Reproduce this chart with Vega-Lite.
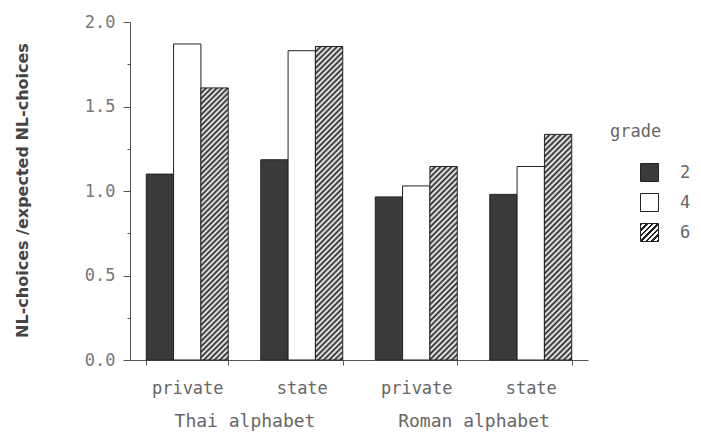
{
"$schema":"https://vega.github.io/schema/vega-lite/v6.json",
"width":458,"height":338,
"autosize":{"type":"none"},
"padding":{"left":130,"top":22,"right":113,"bottom":72},
"background":"white",
"config":{"view":{"stroke":null},"font":"DejaVu Sans Mono"},
"data":{"values":[
{"alphabet":"Thai alphabet","school":"private","cat":"Thai private","grade":"2","value":1.10},
{"alphabet":"Thai alphabet","school":"private","cat":"Thai private","grade":"4","value":1.87},
{"alphabet":"Thai alphabet","school":"private","cat":"Thai private","grade":"6","value":1.61},
{"alphabet":"Thai alphabet","school":"state","cat":"Thai state","grade":"2","value":1.185},
{"alphabet":"Thai alphabet","school":"state","cat":"Thai state","grade":"4","value":1.83},
{"alphabet":"Thai alphabet","school":"state","cat":"Thai state","grade":"6","value":1.855},
{"alphabet":"Roman alphabet","school":"private","cat":"Roman private","grade":"2","value":0.965},
{"alphabet":"Roman alphabet","school":"private","cat":"Roman private","grade":"4","value":1.03},
{"alphabet":"Roman alphabet","school":"private","cat":"Roman private","grade":"6","value":1.145},
{"alphabet":"Roman alphabet","school":"state","cat":"Roman state","grade":"2","value":0.98},
{"alphabet":"Roman alphabet","school":"state","cat":"Roman state","grade":"4","value":1.145},
{"alphabet":"Roman alphabet","school":"state","cat":"Roman state","grade":"6","value":1.335}
]},
"resolve":{"scale":{"x":"independent"},"axis":{"x":"independent"}},
"layer":[
{"mark":{"type":"bar","stroke":"#222","strokeWidth":1},
"encoding":{
"x":{"field":"cat","type":"nominal","sort":["Thai private","Thai state","Roman private","Roman state"],
"scale":{"paddingInner":0.284,"paddingOuter":0.142},
"axis":{"title":null,"labelAngle":0,"labelExpr":"split(datum.label,' ')[1]","tickBand":"extent","tickSize":5,"domainColor":"#555","tickColor":"#555","labelFont":"DejaVu Sans Mono","labelFontSize":17,"labelColor":"#666","labelPadding":15}},
"xOffset":{"field":"grade","type":"nominal","sort":["2","4","6"],"scale":{"paddingInner":0,"paddingOuter":0}},
"y":{"field":"value","type":"quantitative","scale":{"domain":[0,2],"nice":false},
"axis":{"title":"NL-choices /expected NL-choices","titleFont":"DejaVu Sans","titleFontWeight":"bold","titleFontSize":16,"titleColor":"#444","titleX":-108,"titleY":168,"titleAngle":270,"titleAlign":"center","titleBaseline":"middle",
"values":[0,0.25,0.5,0.75,1,1.25,1.5,1.75,2],
"labelExpr":"datum.value % 0.5 === 0 ? format(datum.value,'.1f') : ''",
"tickSize":{"condition":{"test":"datum.value % 0.5 === 0","value":7},"value":3},
"grid":false,"domainColor":"#555","tickColor":"#555","labelFont":"DejaVu Sans Mono","labelFontSize":17,"labelColor":"#777","labelPadding":8}},
"fill":{"field":"grade","type":"nominal","scale":{"domain":["2","4","6"],"range":["#3a3a3a","#ffffff",{"expr":"{gradient:'linear',x1:0,y1:0,x2:1,y2:1,stops:[{offset:0,color:'#222'},{offset:0.07,color:'#222'},{offset:0.07,color:'#fff'},{offset:0.154,color:'#fff'},{offset:0.154,color:'#222'},{offset:0.224,color:'#222'},{offset:0.224,color:'#fff'},{offset:0.308,color:'#fff'},{offset:0.308,color:'#222'},{offset:0.378,color:'#222'},{offset:0.378,color:'#fff'},{offset:0.462,color:'#fff'},{offset:0.462,color:'#222'},{offset:0.532,color:'#222'},{offset:0.532,color:'#fff'},{offset:0.616,color:'#fff'},{offset:0.616,color:'#222'},{offset:0.686,color:'#222'},{offset:0.686,color:'#fff'},{offset:0.77,color:'#fff'},{offset:0.77,color:'#222'},{offset:0.84,color:'#222'},{offset:0.84,color:'#fff'},{offset:0.924,color:'#fff'},{offset:0.924,color:'#222'},{offset:1,color:'#222'}]}"}]},
"legend":{"orient":"none","legendX":480,"legendY":102,"title":"grade","titleFont":"DejaVu Sans Mono","titleFontSize":17,"titleFontWeight":"normal","titleColor":"#666","titlePadding":22,"symbolOffset":30,"symbolType":"square","symbolSize":324,"symbolStrokeColor":"#222","symbolStrokeWidth":1,"labelFont":"DejaVu Sans Mono","labelFontSize":17,"labelColor":"#666","labelOffset":21,"rowPadding":7,"padding":0,
"encode":{"symbols":{"update":{"stroke":{"value":"#222"},"strokeWidth":{"value":1}}}}},
"condition":[
{"test":"datum.cat === 'Thai private' && datum.grade === '6'","value":{"gradient":"linear","x1":0,"y1":0,"x2":0.1094,"y2":1.0895,"stops":[
{"offset":0,"color":"#222"},{"offset":0.009,"color":"#fff"},{"offset":0.018,"color":"#222"},{"offset":0.027,"color":"#fff"},{"offset":0.036,"color":"#222"},{"offset":0.045,"color":"#fff"},{"offset":0.054,"color":"#222"},{"offset":0.063,"color":"#fff"},{"offset":0.072,"color":"#222"},{"offset":0.081,"color":"#fff"},{"offset":0.09,"color":"#222"},{"offset":0.099,"color":"#fff"},{"offset":0.108,"color":"#222"},{"offset":0.117,"color":"#fff"},{"offset":0.126,"color":"#222"},{"offset":0.135,"color":"#fff"},{"offset":0.144,"color":"#222"},{"offset":0.153,"color":"#fff"},{"offset":0.162,"color":"#222"},{"offset":0.171,"color":"#fff"},{"offset":0.18,"color":"#222"},{"offset":0.189,"color":"#fff"},{"offset":0.198,"color":"#222"},{"offset":0.207,"color":"#fff"},{"offset":0.216,"color":"#222"},{"offset":0.225,"color":"#fff"},{"offset":0.234,"color":"#222"},{"offset":0.243,"color":"#fff"},{"offset":0.252,"color":"#222"},{"offset":0.261,"color":"#fff"},{"offset":0.27,"color":"#222"},{"offset":0.279,"color":"#fff"},{"offset":0.288,"color":"#222"},{"offset":0.297,"color":"#fff"},{"offset":0.306,"color":"#222"},{"offset":0.315,"color":"#fff"},{"offset":0.324,"color":"#222"},{"offset":0.333,"color":"#fff"},{"offset":0.342,"color":"#222"},{"offset":0.351,"color":"#fff"},{"offset":0.36,"color":"#222"},{"offset":0.369,"color":"#fff"},{"offset":0.378,"color":"#222"},{"offset":0.387,"color":"#fff"},{"offset":0.396,"color":"#222"},{"offset":0.405,"color":"#fff"},{"offset":0.414,"color":"#222"},{"offset":0.423,"color":"#fff"},{"offset":0.432,"color":"#222"},{"offset":0.441,"color":"#fff"},{"offset":0.45,"color":"#222"},{"offset":0.459,"color":"#fff"},{"offset":0.468,"color":"#222"},{"offset":0.477,"color":"#fff"},{"offset":0.486,"color":"#222"},{"offset":0.495,"color":"#fff"},{"offset":0.504,"color":"#222"},{"offset":0.513,"color":"#fff"},{"offset":0.522,"color":"#222"},{"offset":0.531,"color":"#fff"},{"offset":0.54,"color":"#222"},{"offset":0.549,"color":"#fff"},{"offset":0.558,"color":"#222"},{"offset":0.567,"color":"#fff"},{"offset":0.576,"color":"#222"},{"offset":0.585,"color":"#fff"},{"offset":0.594,"color":"#222"},{"offset":0.603,"color":"#fff"},{"offset":0.612,"color":"#222"},{"offset":0.621,"color":"#fff"},{"offset":0.63,"color":"#222"},{"offset":0.639,"color":"#fff"},{"offset":0.648,"color":"#222"},{"offset":0.657,"color":"#fff"},{"offset":0.666,"color":"#222"},{"offset":0.675,"color":"#fff"},{"offset":0.684,"color":"#222"},{"offset":0.693,"color":"#fff"},{"offset":0.702,"color":"#222"},{"offset":0.711,"color":"#fff"},{"offset":0.72,"color":"#222"},{"offset":0.729,"color":"#fff"},{"offset":0.738,"color":"#222"},{"offset":0.747,"color":"#fff"},{"offset":0.756,"color":"#222"},{"offset":0.765,"color":"#fff"},{"offset":0.774,"color":"#222"},{"offset":0.783,"color":"#fff"},{"offset":0.792,"color":"#222"},{"offset":0.801,"color":"#fff"},{"offset":0.81,"color":"#222"},{"offset":0.819,"color":"#fff"},{"offset":0.828,"color":"#222"},{"offset":0.837,"color":"#fff"},{"offset":0.846,"color":"#222"},{"offset":0.855,"color":"#fff"},{"offset":0.864,"color":"#222"},{"offset":0.873,"color":"#fff"},{"offset":0.882,"color":"#222"},{"offset":0.891,"color":"#fff"},{"offset":0.9,"color":"#222"},{"offset":0.909,"color":"#fff"},{"offset":0.918,"color":"#222"},{"offset":0.927,"color":"#fff"},{"offset":0.936,"color":"#222"},{"offset":0.945,"color":"#fff"},{"offset":0.954,"color":"#222"},{"offset":0.963,"color":"#fff"},{"offset":0.972,"color":"#222"},{"offset":0.981,"color":"#fff"},{"offset":0.99,"color":"#222"},{"offset":0.999,"color":"#fff"}]}},
{"test":"datum.cat === 'Thai state' && datum.grade === '6'","value":{"gradient":"linear","x1":0,"y1":0,"x2":0.0941,"y2":1.079,"stops":[
{"offset":0,"color":"#222"},{"offset":0.008,"color":"#fff"},{"offset":0.016,"color":"#222"},{"offset":0.024,"color":"#fff"},{"offset":0.032,"color":"#222"},{"offset":0.04,"color":"#fff"},{"offset":0.048,"color":"#222"},{"offset":0.056,"color":"#fff"},{"offset":0.064,"color":"#222"},{"offset":0.072,"color":"#fff"},{"offset":0.08,"color":"#222"},{"offset":0.088,"color":"#fff"},{"offset":0.096,"color":"#222"},{"offset":0.104,"color":"#fff"},{"offset":0.112,"color":"#222"},{"offset":0.12,"color":"#fff"},{"offset":0.128,"color":"#222"},{"offset":0.136,"color":"#fff"},{"offset":0.144,"color":"#222"},{"offset":0.152,"color":"#fff"},{"offset":0.16,"color":"#222"},{"offset":0.168,"color":"#fff"},{"offset":0.176,"color":"#222"},{"offset":0.184,"color":"#fff"},{"offset":0.192,"color":"#222"},{"offset":0.2,"color":"#fff"},{"offset":0.208,"color":"#222"},{"offset":0.216,"color":"#fff"},{"offset":0.224,"color":"#222"},{"offset":0.232,"color":"#fff"},{"offset":0.24,"color":"#222"},{"offset":0.248,"color":"#fff"},{"offset":0.256,"color":"#222"},{"offset":0.264,"color":"#fff"},{"offset":0.272,"color":"#222"},{"offset":0.28,"color":"#fff"},{"offset":0.288,"color":"#222"},{"offset":0.296,"color":"#fff"},{"offset":0.304,"color":"#222"},{"offset":0.312,"color":"#fff"},{"offset":0.32,"color":"#222"},{"offset":0.328,"color":"#fff"},{"offset":0.336,"color":"#222"},{"offset":0.344,"color":"#fff"},{"offset":0.352,"color":"#222"},{"offset":0.36,"color":"#fff"},{"offset":0.368,"color":"#222"},{"offset":0.376,"color":"#fff"},{"offset":0.384,"color":"#222"},{"offset":0.392,"color":"#fff"},{"offset":0.4,"color":"#222"},{"offset":0.408,"color":"#fff"},{"offset":0.416,"color":"#222"},{"offset":0.424,"color":"#fff"},{"offset":0.432,"color":"#222"},{"offset":0.44,"color":"#fff"},{"offset":0.448,"color":"#222"},{"offset":0.456,"color":"#fff"},{"offset":0.464,"color":"#222"},{"offset":0.472,"color":"#fff"},{"offset":0.48,"color":"#222"},{"offset":0.488,"color":"#fff"},{"offset":0.496,"color":"#222"},{"offset":0.504,"color":"#fff"},{"offset":0.512,"color":"#222"},{"offset":0.52,"color":"#fff"},{"offset":0.528,"color":"#222"},{"offset":0.536,"color":"#fff"},{"offset":0.544,"color":"#222"},{"offset":0.552,"color":"#fff"},{"offset":0.56,"color":"#222"},{"offset":0.568,"color":"#fff"},{"offset":0.576,"color":"#222"},{"offset":0.584,"color":"#fff"},{"offset":0.592,"color":"#222"},{"offset":0.6,"color":"#fff"},{"offset":0.608,"color":"#222"},{"offset":0.616,"color":"#fff"},{"offset":0.624,"color":"#222"},{"offset":0.632,"color":"#fff"},{"offset":0.64,"color":"#222"},{"offset":0.648,"color":"#fff"},{"offset":0.656,"color":"#222"},{"offset":0.664,"color":"#fff"},{"offset":0.672,"color":"#222"},{"offset":0.68,"color":"#fff"},{"offset":0.688,"color":"#222"},{"offset":0.696,"color":"#fff"},{"offset":0.704,"color":"#222"},{"offset":0.712,"color":"#fff"},{"offset":0.72,"color":"#222"},{"offset":0.728,"color":"#fff"},{"offset":0.736,"color":"#222"},{"offset":0.744,"color":"#fff"},{"offset":0.752,"color":"#222"},{"offset":0.76,"color":"#fff"},{"offset":0.768,"color":"#222"},{"offset":0.776,"color":"#fff"},{"offset":0.784,"color":"#222"},{"offset":0.792,"color":"#fff"},{"offset":0.8,"color":"#222"},{"offset":0.808,"color":"#fff"},{"offset":0.816,"color":"#222"},{"offset":0.824,"color":"#fff"},{"offset":0.832,"color":"#222"},{"offset":0.84,"color":"#fff"},{"offset":0.848,"color":"#222"},{"offset":0.856,"color":"#fff"},{"offset":0.864,"color":"#222"},{"offset":0.872,"color":"#fff"},{"offset":0.88,"color":"#222"},{"offset":0.888,"color":"#fff"},{"offset":0.896,"color":"#222"},{"offset":0.904,"color":"#fff"},{"offset":0.912,"color":"#222"},{"offset":0.92,"color":"#fff"},{"offset":0.928,"color":"#222"},{"offset":0.936,"color":"#fff"},{"offset":0.944,"color":"#222"},{"offset":0.952,"color":"#fff"},{"offset":0.96,"color":"#222"},{"offset":0.968,"color":"#fff"},{"offset":0.976,"color":"#222"},{"offset":0.984,"color":"#fff"},{"offset":0.992,"color":"#222"},{"offset":1,"color":"#fff"}]}},
{"test":"datum.cat === 'Roman private' && datum.grade === '6'","value":{"gradient":"linear","x1":0,"y1":0,"x2":0.158,"y2":1.1189,"stops":[
{"offset":0,"color":"#222"},{"offset":0.0125,"color":"#fff"},{"offset":0.025,"color":"#222"},{"offset":0.0375,"color":"#fff"},{"offset":0.05,"color":"#222"},{"offset":0.0625,"color":"#fff"},{"offset":0.075,"color":"#222"},{"offset":0.0875,"color":"#fff"},{"offset":0.1,"color":"#222"},{"offset":0.1125,"color":"#fff"},{"offset":0.125,"color":"#222"},{"offset":0.1375,"color":"#fff"},{"offset":0.15,"color":"#222"},{"offset":0.1625,"color":"#fff"},{"offset":0.175,"color":"#222"},{"offset":0.1875,"color":"#fff"},{"offset":0.2,"color":"#222"},{"offset":0.2125,"color":"#fff"},{"offset":0.225,"color":"#222"},{"offset":0.2375,"color":"#fff"},{"offset":0.25,"color":"#222"},{"offset":0.2625,"color":"#fff"},{"offset":0.275,"color":"#222"},{"offset":0.2875,"color":"#fff"},{"offset":0.3,"color":"#222"},{"offset":0.3125,"color":"#fff"},{"offset":0.325,"color":"#222"},{"offset":0.3375,"color":"#fff"},{"offset":0.35,"color":"#222"},{"offset":0.3625,"color":"#fff"},{"offset":0.375,"color":"#222"},{"offset":0.3875,"color":"#fff"},{"offset":0.4,"color":"#222"},{"offset":0.4125,"color":"#fff"},{"offset":0.425,"color":"#222"},{"offset":0.4375,"color":"#fff"},{"offset":0.45,"color":"#222"},{"offset":0.4625,"color":"#fff"},{"offset":0.475,"color":"#222"},{"offset":0.4875,"color":"#fff"},{"offset":0.5,"color":"#222"},{"offset":0.5125,"color":"#fff"},{"offset":0.525,"color":"#222"},{"offset":0.5375,"color":"#fff"},{"offset":0.55,"color":"#222"},{"offset":0.5625,"color":"#fff"},{"offset":0.575,"color":"#222"},{"offset":0.5875,"color":"#fff"},{"offset":0.6,"color":"#222"},{"offset":0.6125,"color":"#fff"},{"offset":0.625,"color":"#222"},{"offset":0.6375,"color":"#fff"},{"offset":0.65,"color":"#222"},{"offset":0.6625,"color":"#fff"},{"offset":0.675,"color":"#222"},{"offset":0.6875,"color":"#fff"},{"offset":0.7,"color":"#222"},{"offset":0.7125,"color":"#fff"},{"offset":0.725,"color":"#222"},{"offset":0.7375,"color":"#fff"},{"offset":0.75,"color":"#222"},{"offset":0.7625,"color":"#fff"},{"offset":0.775,"color":"#222"},{"offset":0.7875,"color":"#fff"},{"offset":0.8,"color":"#222"},{"offset":0.8125,"color":"#fff"},{"offset":0.825,"color":"#222"},{"offset":0.8375,"color":"#fff"},{"offset":0.85,"color":"#222"},{"offset":0.8625,"color":"#fff"},{"offset":0.875,"color":"#222"},{"offset":0.8875,"color":"#fff"},{"offset":0.9,"color":"#222"},{"offset":0.9125,"color":"#fff"},{"offset":0.925,"color":"#222"},{"offset":0.9375,"color":"#fff"},{"offset":0.95,"color":"#222"},{"offset":0.9625,"color":"#fff"},{"offset":0.975,"color":"#222"},{"offset":0.9875,"color":"#fff"},{"offset":1,"color":"#222"}]}},
{"test":"datum.cat === 'Roman state' && datum.grade === '6'","value":{"gradient":"linear","x1":0,"y1":0,"x2":0.1339,"y2":1.1049,"stops":[
{"offset":0,"color":"#222"},{"offset":0.011,"color":"#fff"},{"offset":0.022,"color":"#222"},{"offset":0.033,"color":"#fff"},{"offset":0.044,"color":"#222"},{"offset":0.055,"color":"#fff"},{"offset":0.066,"color":"#222"},{"offset":0.077,"color":"#fff"},{"offset":0.088,"color":"#222"},{"offset":0.099,"color":"#fff"},{"offset":0.11,"color":"#222"},{"offset":0.121,"color":"#fff"},{"offset":0.132,"color":"#222"},{"offset":0.143,"color":"#fff"},{"offset":0.154,"color":"#222"},{"offset":0.165,"color":"#fff"},{"offset":0.176,"color":"#222"},{"offset":0.187,"color":"#fff"},{"offset":0.198,"color":"#222"},{"offset":0.209,"color":"#fff"},{"offset":0.22,"color":"#222"},{"offset":0.231,"color":"#fff"},{"offset":0.242,"color":"#222"},{"offset":0.253,"color":"#fff"},{"offset":0.264,"color":"#222"},{"offset":0.275,"color":"#fff"},{"offset":0.286,"color":"#222"},{"offset":0.297,"color":"#fff"},{"offset":0.308,"color":"#222"},{"offset":0.319,"color":"#fff"},{"offset":0.33,"color":"#222"},{"offset":0.341,"color":"#fff"},{"offset":0.352,"color":"#222"},{"offset":0.363,"color":"#fff"},{"offset":0.374,"color":"#222"},{"offset":0.385,"color":"#fff"},{"offset":0.396,"color":"#222"},{"offset":0.407,"color":"#fff"},{"offset":0.418,"color":"#222"},{"offset":0.429,"color":"#fff"},{"offset":0.44,"color":"#222"},{"offset":0.451,"color":"#fff"},{"offset":0.462,"color":"#222"},{"offset":0.473,"color":"#fff"},{"offset":0.484,"color":"#222"},{"offset":0.495,"color":"#fff"},{"offset":0.506,"color":"#222"},{"offset":0.517,"color":"#fff"},{"offset":0.528,"color":"#222"},{"offset":0.539,"color":"#fff"},{"offset":0.55,"color":"#222"},{"offset":0.561,"color":"#fff"},{"offset":0.572,"color":"#222"},{"offset":0.583,"color":"#fff"},{"offset":0.594,"color":"#222"},{"offset":0.605,"color":"#fff"},{"offset":0.616,"color":"#222"},{"offset":0.627,"color":"#fff"},{"offset":0.638,"color":"#222"},{"offset":0.649,"color":"#fff"},{"offset":0.66,"color":"#222"},{"offset":0.671,"color":"#fff"},{"offset":0.682,"color":"#222"},{"offset":0.693,"color":"#fff"},{"offset":0.704,"color":"#222"},{"offset":0.715,"color":"#fff"},{"offset":0.726,"color":"#222"},{"offset":0.737,"color":"#fff"},{"offset":0.748,"color":"#222"},{"offset":0.759,"color":"#fff"},{"offset":0.77,"color":"#222"},{"offset":0.781,"color":"#fff"},{"offset":0.792,"color":"#222"},{"offset":0.803,"color":"#fff"},{"offset":0.814,"color":"#222"},{"offset":0.825,"color":"#fff"},{"offset":0.836,"color":"#222"},{"offset":0.847,"color":"#fff"},{"offset":0.858,"color":"#222"},{"offset":0.869,"color":"#fff"},{"offset":0.88,"color":"#222"},{"offset":0.891,"color":"#fff"},{"offset":0.902,"color":"#222"},{"offset":0.913,"color":"#fff"},{"offset":0.924,"color":"#222"},{"offset":0.935,"color":"#fff"},{"offset":0.946,"color":"#222"},{"offset":0.957,"color":"#fff"},{"offset":0.968,"color":"#222"},{"offset":0.979,"color":"#fff"},{"offset":0.99,"color":"#222"}]}}
]}
}},
{"mark":{"type":"text","text":""},
"encoding":{
"x":{"field":"alphabet","type":"nominal","sort":["Thai alphabet","Roman alphabet"],"scale":{"paddingInner":0,"paddingOuter":0},
"axis":{"orient":"bottom","title":null,"domain":false,"ticks":false,"labelAngle":0,"labelFont":"DejaVu Sans Mono","labelFontSize":18,"labelColor":"#666","labelPadding":52}}}}
]
}
